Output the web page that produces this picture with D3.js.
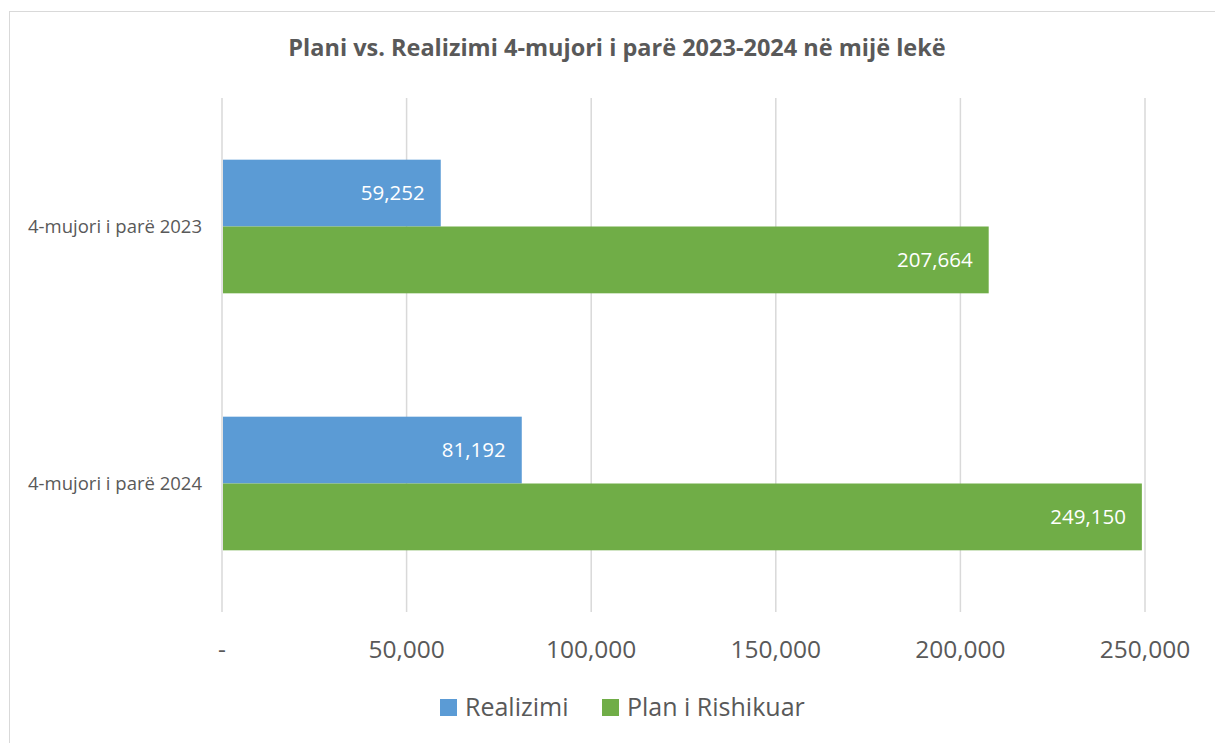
<!DOCTYPE html>
<html>
<head>
<meta charset="utf-8">
<script src="https://cdn.jsdelivr.net/npm/d3@7"></script>
<style>
  body { margin: 0; background: #fff; }
  text { font-family: "Open Sans", sans-serif; }
</style>
</head>
<body>
<svg id="chart" width="1215" height="743"></svg>
<script>
// DATA
const categories = ["4-mujori i parë 2023", "4-mujori i parë 2024"];
const seriesNames = ["Realizimi", "Plan i Rishikuar"];
const realizimi = [59252, 81192];
const planRishikuar = [207664, 249150];
const tickValues = [0, 50000, 100000, 150000, 200000, 250000];
const colors = ["#5B9BD5", "#70AD47"];

const svg = d3.select("#chart");
const margin = { top: 98, right: 70, bottom: 131, left: 222 };
const width = 1215 - margin.left - margin.right,
      height = 743 - margin.top - margin.bottom;

// chart border
svg.append("rect")
    .attr("x", 9.5).attr("y", 11.5)
    .attr("width", 1215).attr("height", 743)
    .attr("fill", "none")
    .attr("stroke", "#D9D9D9");

// title
svg.append("text")
    .attr("x", 617).attr("y", 56)
    .attr("text-anchor", "middle")
    .style("font-size", "23.5px")
    .style("font-weight", "bold")
    .attr("fill", "#595959")
    .text("Plani vs. Realizimi 4-mujori i parë 2023-2024 në mijë lekë");

const g = svg.append("g")
    .attr("transform", `translate(${margin.left},${margin.top})`);

const xScale = d3.scaleLinear().domain([0, 250000]).range([0, width]);
const yScale = d3.scaleBand().domain(categories).range([0, height]).paddingInner(0).paddingOuter(0);
const inner = d3.scaleBand().domain(seriesNames)
    .range([yScale.bandwidth() * 0.24, yScale.bandwidth() * 0.76]);

// gridlines
g.selectAll(".grid")
    .data(tickValues)
    .enter().append("line")
    .attr("x1", d => xScale(d)).attr("x2", d => xScale(d))
    .attr("y1", 0).attr("y2", height)
    .attr("stroke", "#D9D9D9")
    .attr("stroke-width", 1.5);

// x tick labels
g.selectAll(".tick-label")
    .data(tickValues)
    .enter().append("text")
    .attr("x", d => xScale(d))
    .attr("y", height + 46)
    .attr("text-anchor", "middle")
    .style("font-size", "24.5px")
    .attr("fill", "#595959")
    .text(d => d === 0 ? "-" : d3.format(",")(d));

// category labels
g.selectAll(".cat-label")
    .data(categories)
    .enter().append("text")
    .attr("x", -20)
    .attr("y", d => yScale(d) + yScale.bandwidth() / 2)
    .attr("dy", "0.35em")
    .attr("text-anchor", "end")
    .style("font-size", "18.5px")
    .attr("fill", "#595959")
    .text(d => d);

// bars
const seriesData = [realizimi, planRishikuar];
seriesNames.forEach((name, s) => {
    const rows = categories.map((c, i) => ({ cat: c, value: seriesData[s][i] }));
    g.selectAll(".bar-" + s)
        .data(rows)
        .enter().append("rect")
        .attr("x", xScale(0) + 1)
        .attr("y", d => yScale(d.cat) + inner(name))
        .attr("width", d => xScale(d.value) - xScale(0) - 1)
        .attr("height", inner.bandwidth())
        .attr("fill", colors[s]);

    g.selectAll(".label-" + s)
        .data(rows)
        .enter().append("text")
        .attr("x", d => xScale(d.value) - 16)
        .attr("y", d => yScale(d.cat) + inner(name) + inner.bandwidth() / 2)
        .attr("dy", "0.35em")
        .attr("text-anchor", "end")
        .style("font-size", "20.5px")
        .attr("fill", "#FFFFFF")
        .text(d => d3.format(",")(d.value));
});

// legend
const legendX = [440, 602];
const legend = svg.selectAll(".legend")
    .data(seriesNames)
    .enter().append("g")
    .attr("transform", (d, i) => `translate(${legendX[i]},699)`);

legend.append("rect")
    .attr("width", 17).attr("height", 17)
    .attr("fill", (d, i) => colors[i]);

legend.append("text")
    .attr("x", 25).attr("y", 8.5)
    .attr("dy", "0.35em")
    .style("font-size", "25px")
    .attr("fill", "#595959")
    .text(d => d);
</script>
</body>
</html>
